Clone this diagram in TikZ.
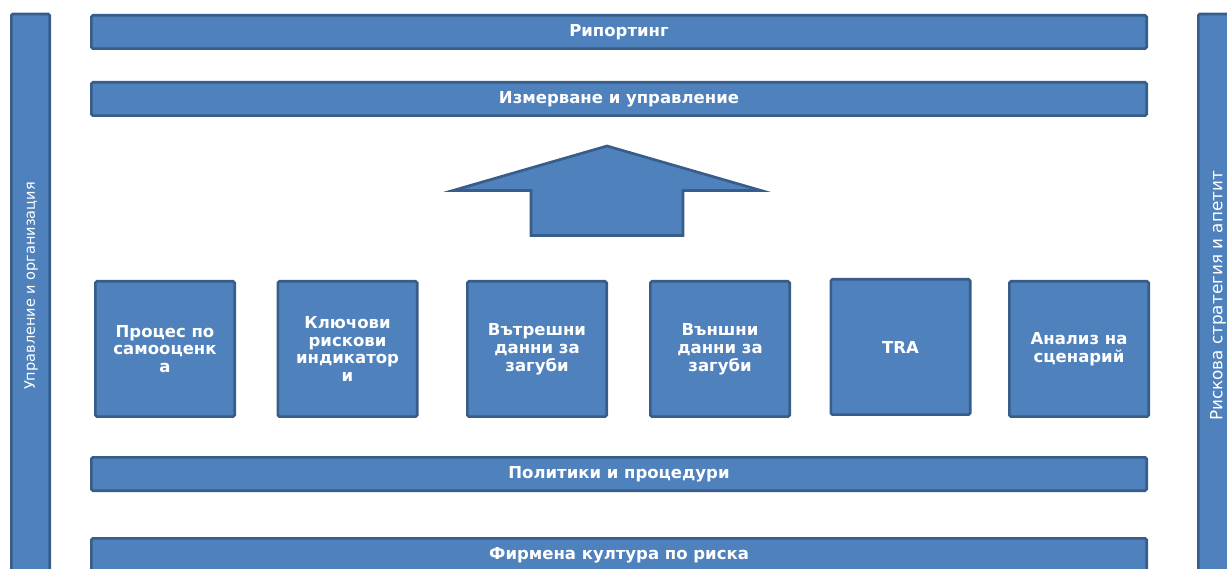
\documentclass[tikz,border=0pt]{standalone}
\usepackage{fontspec}
\setmainfont{DejaVu Sans}[Language=Bulgarian]
\definecolor{fillc}{HTML}{4F81BD}
\definecolor{bordc}{HTML}{385D8A}
\tikzset{
  blk/.style={draw=bordc, fill=fillc, line width=2.7pt, rounded corners=1.5pt, inner sep=0pt},
  barlbl/.style={text=white, font=\bfseries\fontsize{16.5}{18}\selectfont},
  boxlbl/.style={text=white, font=\bfseries\fontsize{16.5}{17.8}\selectfont, align=center},
  sidelbl/.style={text=white, rotate=90},
}
\begin{document}
\begin{tikzpicture}[x=1pt,y=-1pt]
\useasboundingbox (0,0) rectangle (1227,569);
\clip (0,0) rectangle (1227,569);
% side bars
\node[blk, minimum width=38.3pt, minimum height=600pt] (left) at (30.5,314) {};
\node[sidelbl, font=\fontsize{14.5}{17}\selectfont] (lefttxt) at (31,286) {Управление и организация};
\node[blk, minimum width=38.3pt, minimum height=600pt] (right) at (1217.5,314) {};
\node[sidelbl, font=\fontsize{16.8}{18}\selectfont] (righttxt) at (1218,296) {Рискова стратегия и апетит};
% horizontal bars
\node[blk, barlbl, minimum width=1055.3pt, minimum height=33.3pt] (rep) at (619,32) {Рипортинг};
\node[blk, barlbl, minimum width=1055.3pt, minimum height=33.3pt] (izm) at (619,99) {Измерване и управление};
\node[blk, barlbl, minimum width=1055.3pt, minimum height=33.3pt] (pol) at (619,474) {Политики и процедури};
\node[blk, barlbl, minimum width=1055.3pt, minimum height=33.3pt] (firm) at (619,555) {Фирмена култура по риска};
% arrow
\draw[draw=bordc, fill=fillc, line width=2.7pt, line join=miter]
  (607,146) -- (761,190.5) -- (683,190.5) -- (683,235.5) -- (531,235.5) -- (531,190.5) -- (453,190.5) -- cycle;
% boxes
\node[blk, boxlbl, minimum width=139.3pt, minimum height=135.3pt] (b1) at (165,349) {Процес по\\самооценк\\а};
\node[blk, boxlbl, minimum width=139.3pt, minimum height=135.3pt] (b2) at (347.5,349) {Ключови\\рискови\\индикатор\\и};
\node[blk, boxlbl, minimum width=139.3pt, minimum height=135.3pt] (b3) at (537,349) {Вътрешни\\данни за\\загуби};
\node[blk, boxlbl, minimum width=139.3pt, minimum height=135.3pt] (b4) at (720,349) {Външни\\данни за\\загуби};
\node[blk, boxlbl, minimum width=139.3pt, minimum height=135.3pt] (b5) at (900.5,347) {TRA};
\node[blk, boxlbl, minimum width=139.3pt, minimum height=135.3pt] (b6) at (1079,349) {Анализ на\\сценарий};
\end{tikzpicture}
\end{document}
